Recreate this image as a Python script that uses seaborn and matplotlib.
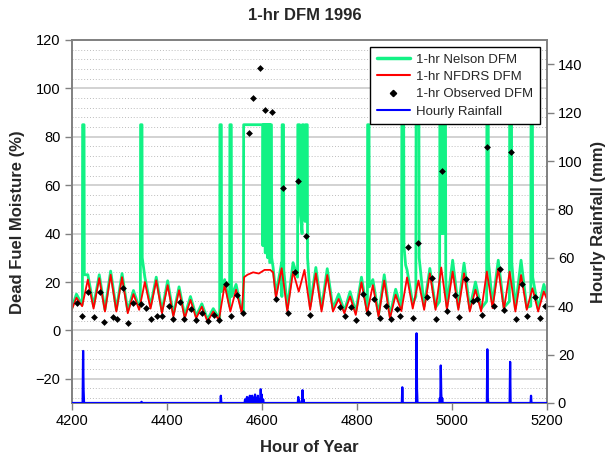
import numpy as np
import pandas as pd
import matplotlib
matplotlib.use("Agg")
import matplotlib.pyplot as plt
import seaborn as sns
from matplotlib.ticker import MultipleLocator
from matplotlib.lines import Line2D

# ---------------- data ----------------
day_start = np.arange(4200, 5200, 24)          # 42 days, hour of year at 00h

# 1-hr NFDRS DFM: daily maximum (~10h) and minimum (~22h)
nfdrs_peak = [13.5, 21.0, 21.6, 23.0, 22.0, 15.0, 20.0, 20.7, 18.7, 16.6,
              12.6, 9.8, 7.8, 18.8, 16.8, 23.0, 23.5, 25.0, 25.7, 24.3,
              25.0, 23.6, 22.9, 13.0, 14.0, 19.9, 18.7, 20.6, 14.7, 21.9,
              20.6, 23.6, 26.0, 24.3, 23.6, 16.8, 24.3, 25.6, 24.3, 22.9,
              17.4, 16.1]
nfdrs_trough = [10.0, 9.0, 7.8, 7.8, 7.1, 8.5, 9.0, 7.1, 5.7, 5.0,
                5.0, 3.6, 4.3, 7.8, 7.1, 24.0, 25.0, 13.3, 7.8, 16.0,
                8.5, 7.8, 7.8, 7.1, 6.4, 7.1, 5.7, 5.0, 8.0, 9.0,
                8.5, 8.5, 8.5, 8.5, 7.8, 7.8, 9.2, 8.5, 7.8, 8.5,
                7.8, 10.0]
nfdrs_extra_hour = [4200, 4563, 4624]
nfdrs_extra_val = [8.5, 22.0, 24.0]

# 1-hr Nelson DFM: daily maximum / minimum
nelson_peak = [15.0, 23.0, 23.0, 24.5, 23.5, 16.5, 22.0, 22.0, 20.5, 18.0,
               14.0, 11.0, 9.0, 21.0, 19.0, 30.0, 30.0, 30.0, 28.0, 28.0,
               28.0, 26.0, 25.5, 15.0, 16.0, 22.0, 21.0, 23.0, 17.0, 25.0,
               24.0, 25.6, 30.0, 29.0, 27.8, 20.0, 28.5, 29.0, 28.0, 29.0,
               21.0, 19.0]
nelson_trough = [10.5, 10.0, 8.5, 8.5, 8.0, 9.5, 10.0, 8.0, 6.5, 6.0,
                 6.0, 4.5, 5.0, 9.0, 8.0, 40.0, 40.0, 15.0, 9.0, 18.0,
                 10.0, 9.0, 9.0, 8.0, 7.5, 8.0, 6.5, 6.0, 9.0, 11.0,
                 10.0, 9.5, 10.0, 9.5, 9.0, 9.0, 10.5, 9.5, 9.0, 9.5,
                 9.0, 11.0]
nelson_start_hour = [4200]
nelson_start_val = [9.0]

# Nelson rain events (values capped at 85)
nelson_evt_id = ([1] * 4 + [2] * 5 + [3] * 4 + [4] * 4 + [5] * 26 + [6] * 4 +
                 [7] * 13 + [8] * 4 + [9] * 5 + [10] * 4 + [11] * 8 + [12] * 4 +
                 [13] * 4 + [14] * 4)
nelson_evt_hour = [4222.5, 4223, 4226, 4226.5,
                   4344.5, 4345, 4348, 4348.5, 4352,
                   4511.5, 4512, 4515, 4515.5,
                   4532.5, 4533, 4536, 4536.5,
                   4561.5, 4562, 4602, 4602.5, 4603.5, 4604.5, 4605, 4606, 4607,
                   4607.5, 4608.5, 4609.5, 4610, 4611, 4612, 4612.5, 4613.5,
                   4614.5, 4615, 4616, 4617, 4617.5, 4618.5, 4620.5, 4621, 4624,
                   4642.5, 4643, 4646, 4646.5,
                   4675.5, 4676, 4680, 4680.5, 4685, 4685.5, 4688, 4688.5,
                   4691.5, 4692, 4696, 4696.5, 4700,
                   4822.5, 4823, 4826, 4826.5,
                   4894.5, 4895, 4899, 4899.5, 4903,
                   4924.5, 4925, 4931, 4931.5,
                   4974.5, 4975, 4978, 4978.5, 4982.5, 4983, 4987, 4987.5,
                   5073.5, 5074, 5077, 5077.5,
                   5121.5, 5122, 5126, 5126.5,
                   5166.5, 5167, 5170, 5170.5]
nelson_evt_val = [12, 85, 85, 23,
                  10, 85, 85, 30, 25,
                  5, 85, 85, 16,
                  10, 85, 85, 14,
                  7.5, 85, 85, 35, 85, 85, 40, 85, 85,
                  32, 85, 85, 45, 85, 85, 30, 85,
                  85, 38, 85, 85, 28, 85, 85, 30, 26,
                  14, 85, 85, 25,
                  22, 85, 85, 50, 40, 85, 85, 50,
                  45, 85, 85, 30, 20,
                  12, 85, 85, 18,
                  15, 85, 85, 35, 27,
                  14, 85, 85, 30,
                  12, 85, 85, 40, 40, 85, 85, 22,
                  12, 85, 85, 28,
                  12, 85, 85, 28,
                  10, 85, 85, 22]

# 1-hr observed DFM
obs_hour = [4212, 4222, 4234, 4246, 4260, 4269, 4287, 4296, 4307, 4319,
            4330, 4345, 4357, 4366, 4380, 4391, 4405, 4414, 4428, 4437,
            4452, 4461, 4475, 4487, 4500, 4510, 4524, 4535, 4547, 4560,
            4573, 4582, 4596, 4607, 4621, 4631, 4645, 4655, 4670, 4677,
            4693, 4701, 4765, 4775, 4789, 4798, 4813, 4824, 4836, 4848,
            4862, 4872, 4885, 4892, 4909, 4918, 4930, 4948, 4958, 4966,
            4979, 4991, 5007, 5015, 5030, 5044, 5054, 5064, 5074, 5088,
            5102, 5110, 5124, 5136, 5149, 5159, 5175, 5186, 5196]
obs_val = [11.2, 6.0, 15.8, 5.6, 15.8, 3.4, 5.5, 4.7, 17.4, 3.0,
           11.4, 11.1, 9.2, 4.7, 6.1, 6.0, 10.1, 4.6, 11.6, 4.6,
           8.7, 4.1, 7.1, 4.0, 6.4, 4.1, 19.1, 6.1, 14.7, 7.1,
           81.5, 96.0, 108.3, 91.1, 90.2, 12.9, 58.8, 7.1, 24.0, 61.9,
           39.1, 6.4, 9.7, 6.1, 9.7, 4.1, 15.0, 7.1, 13.0, 5.2,
           10.0, 4.7, 8.9, 6.1, 34.6, 5.0, 36.0, 13.7, 21.6, 4.6,
           66.0, 8.1, 14.7, 5.4, 21.1, 12.0, 13.0, 6.5, 75.8, 10.1,
           25.3, 8.5, 73.8, 4.6, 19.0, 6.1, 13.6, 5.0, 9.9]

# Hourly rainfall (mm); every other hour is 0
rain_hour = [4224, 4225, 4347, 4514, 4565, 4567, 4569, 4572, 4575, 4577,
             4580, 4583, 4586, 4589, 4592, 4595, 4598, 4600, 4603, 4677,
             4679, 4686, 4688, 4896, 4926, 4927, 4975, 4977, 4978, 4980,
             5075, 5076, 5123, 5167]
rain_mm = [21.5, 5.5, 0.5, 3.0, 1.5, 0.5, 2.5, 2.0, 3.0, 1.5,
           3.0, 2.0, 3.5, 2.0, 3.0, 1.5, 5.7, 3.5, 1.5, 2.5,
           1.0, 5.3, 1.5, 6.5, 28.8, 5.5, 2.0, 15.5, 4.0, 2.0,
           22.2, 2.0, 17.0, 3.0]

x_ticks = [4200, 4400, 4600, 4800, 5000, 5200]
left_ticks = [-20, 0, 20, 40, 60, 80, 100, 120]
right_ticks = [0, 20, 40, 60, 80, 100, 120, 140]

# ---------------- build tables ----------------
peak_h = day_start + 10
trough_h = day_start + 22

nfdrs = pd.DataFrame({
    "hour": np.concatenate([nfdrs_extra_hour, peak_h, trough_h]).astype(float),
    "dfm": np.concatenate([nfdrs_extra_val, nfdrs_peak, nfdrs_trough]),
}).sort_values("hour")

base = pd.DataFrame({
    "hour": np.concatenate([nelson_start_hour, peak_h, trough_h]).astype(float),
    "dfm": np.concatenate([nelson_start_val, nelson_peak, nelson_trough]),
})
evt = pd.DataFrame({"id": nelson_evt_id, "hour": nelson_evt_hour, "dfm": nelson_evt_val})
for _, g in evt.groupby("id"):
    lo, hi = g["hour"].min(), g["hour"].max()
    base = base[(base["hour"] < lo) | (base["hour"] > hi)]
nelson = pd.concat([base, evt[["hour", "dfm"]]]).sort_values("hour")

rain_hours = np.arange(4200, 5201)
rain_series = pd.Series(0.0, index=rain_hours)
rain_series.loc[rain_hour] = rain_mm
rain = pd.DataFrame({"hour": rain_hours, "mm": rain_series.values})

obs = pd.DataFrame({"hour": obs_hour, "dfm": obs_val})

# ---------------- plot ----------------
sns.set_theme(style="white")
plt.rcParams["font.family"] = ["Liberation Sans", "DejaVu Sans"]

W, H = 612, 458
fig = plt.figure(figsize=(W / 100, H / 100), dpi=100)
ax = fig.add_axes([71.7 / W, 1 - 403 / H, (546.7 - 71.7) / W, (403 - 40) / H])
ax2 = ax.twinx()

GREEN = "#12F285"
sns.lineplot(data=nelson, x="hour", y="dfm", ax=ax, color=GREEN, lw=2.0,
             estimator=None, sort=False, legend=False, zorder=2)
sns.lineplot(data=nfdrs, x="hour", y="dfm", ax=ax, color="#FF0000", lw=1.3,
             estimator=None, sort=False, legend=False, zorder=3)
sns.scatterplot(data=obs, x="hour", y="dfm", ax=ax, marker="D", s=12,
                color="black", edgecolor="black", linewidth=0, zorder=4,
                legend=False)
sns.lineplot(data=rain, x="hour", y="mm", ax=ax2, color="#0000FF", lw=1.6,
             estimator=None, sort=False, legend=False, zorder=3)

ax.set_xlim(4200, 5200)
ax.set_ylim(-30, 120)
ax2.set_ylim(0, 150)
ax.set_xticks(x_ticks)
ax.set_yticks(left_ticks)
ax2.set_yticks(right_ticks)
ax.yaxis.set_minor_locator(MultipleLocator(4))

ax.set_axisbelow(True)
ax.yaxis.grid(True, which="major", color="#cfcfcf", lw=1.3, ls="-")
ax.yaxis.grid(True, which="minor", color="#bdbdbd", lw=0.7, ls=(0, (1, 2)))
ax.xaxis.grid(False)
ax2.grid(False)

for a in (ax, ax2):
    for s in a.spines.values():
        s.set_color("#808080")
        s.set_linewidth(1.2)
    a.set_xlabel("")
    a.set_ylabel("")

ax.tick_params(axis="both", which="major", direction="out", length=5,
               width=1, color="#808080", labelsize=10.5, labelcolor="black",
               pad=3, left=True, bottom=True)
ax.tick_params(axis="y", which="minor", length=0)
ax2.tick_params(axis="y", which="major", direction="out", length=5, width=1,
                color="#808080", labelsize=10.5, labelcolor="black", pad=3,
                right=True)

fig.text(0.498, 1 - 16 / H, "1-hr DFM 1996", ha="center", va="center",
         fontsize=12, fontweight="bold")
fig.text(0.506, 1 - 447 / H, "Hour of Year", ha="center", va="center",
         fontsize=12, fontweight="bold")
fig.text(18 / W, 1 - 222 / H, "Dead Fuel Moisture (%)", ha="center",
         va="center", rotation=90, fontsize=12, fontweight="bold")
fig.text(598 / W, 1 - 222 / H, "Hourly Rainfall (mm)", ha="center",
         va="center", rotation=90, fontsize=12, fontweight="bold")

handles = [Line2D([], [], color=GREEN, lw=2.5),
           Line2D([], [], color="#FF0000", lw=1.5),
           Line2D([], [], ls="none", marker="D", color="black", ms=3.2),
           Line2D([], [], color="#0000FF", lw=1.5)]
labels = ["1-hr Nelson DFM", "1-hr NFDRS DFM", "1-hr Observed DFM",
          "Hourly Rainfall"]
leg = ax2.legend(handles, labels, loc="upper right",
                 bbox_to_anchor=(540 / W, 1 - 47 / H),
                 bbox_transform=fig.transFigure, borderaxespad=0,
                 frameon=True, fancybox=False, framealpha=1,
                 edgecolor="black", fontsize=9.5, labelspacing=0.38,
                 handlelength=2.5, handletextpad=0.5, borderpad=0.5)
leg.get_frame().set_linewidth(1.0)
leg.set_zorder(10)

fig.savefig("out.png", dpi=100)
